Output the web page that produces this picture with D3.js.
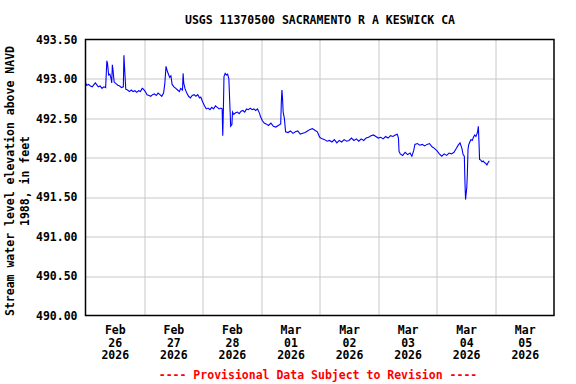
<!DOCTYPE html>
<html>
<head>
<meta charset="utf-8">
<script src="https://cdn.jsdelivr.net/npm/d3@7"></script>
<style>
	body { margin: 0; background: #fff; }
	text { font-family: "DejaVu Sans Mono", monospace; font-weight: bold; }
</style>
</head>
<body>
<div id="chart-area"></div>
<script>
// readings (local time) and stage values
var times = [
	'02-26 00:00', '02-26 00:30', '02-26 01:15', '02-26 02:00', '02-26 02:45', '02-26 03:30', '02-26 04:00', '02-26 04:30',
	'02-26 05:15', '02-26 06:00', '02-26 06:45', '02-26 07:30', '02-26 08:15', '02-26 08:45', '02-26 09:00', '02-26 09:30',
	'02-26 10:00', '02-26 10:30', '02-26 10:45', '02-26 11:00', '02-26 11:15', '02-26 11:45', '02-26 12:30', '02-26 13:15',
	'02-26 14:00', '02-26 14:45', '02-26 15:30', '02-26 15:45', '02-26 16:00', '02-26 16:30', '02-26 17:15', '02-26 18:00',
	'02-26 18:45', '02-26 19:30', '02-26 20:15', '02-26 21:00', '02-26 21:45', '02-26 22:30', '02-26 23:15', '02-26 23:45',
	'02-27 00:30', '02-27 01:15', '02-27 02:00', '02-27 02:45', '02-27 03:30', '02-27 04:15', '02-27 05:00', '02-27 05:45',
	'02-27 06:30', '02-27 07:15', '02-27 08:00', '02-27 08:30', '02-27 09:00', '02-27 09:30', '02-27 10:00', '02-27 10:30',
	'02-27 11:00', '02-27 11:30', '02-27 12:15', '02-27 13:00', '02-27 13:45', '02-27 14:30', '02-27 15:00', '02-27 15:45',
	'02-27 16:00', '02-27 16:15', '02-27 16:45', '02-27 17:30', '02-27 18:15', '02-27 19:00', '02-27 19:45', '02-27 20:30',
	'02-27 21:15', '02-27 22:00', '02-27 22:45', '02-27 23:15',
	'02-28 00:00', '02-28 00:45', '02-28 01:30', '02-28 02:15', '02-28 03:00', '02-28 03:45', '02-28 04:30', '02-28 05:15',
	'02-28 06:00', '02-28 06:45', '02-28 07:30', '02-28 08:00', '02-28 08:15', '02-28 08:30', '02-28 08:45', '02-28 09:15',
	'02-28 09:45', '02-28 10:15', '02-28 10:45', '02-28 11:00', '02-28 11:15', '02-28 11:30', '02-28 12:00', '02-28 12:15',
	'02-28 12:45', '02-28 13:30', '02-28 14:15', '02-28 15:00', '02-28 15:45', '02-28 16:30', '02-28 17:15', '02-28 18:00',
	'02-28 18:45', '02-28 19:30', '02-28 20:15', '02-28 21:00', '02-28 21:45', '02-28 22:30', '02-28 23:15', '02-28 23:45',
	'03-01 00:30', '03-01 01:15', '03-01 02:00', '03-01 03:00', '03-01 04:00', '03-01 05:00', '03-01 06:00', '03-01 07:00',
	'03-01 08:00', '03-01 08:15', '03-01 08:30', '03-01 08:45', '03-01 09:00', '03-01 09:30', '03-01 10:00', '03-01 11:00',
	'03-01 12:00', '03-01 13:00', '03-01 14:00', '03-01 15:00', '03-01 16:00', '03-01 17:00', '03-01 18:00', '03-01 19:00',
	'03-01 20:00', '03-01 21:00', '03-01 22:00', '03-01 23:00',
	'03-02 00:00', '03-02 01:00', '03-02 02:00', '03-02 03:00', '03-02 04:00', '03-02 05:00', '03-02 06:00', '03-02 07:00',
	'03-02 08:00', '03-02 09:00', '03-02 10:00', '03-02 11:00', '03-02 12:00', '03-02 13:00', '03-02 14:00', '03-02 15:00',
	'03-02 16:00', '03-02 17:00', '03-02 18:00', '03-02 19:00', '03-02 20:00', '03-02 21:00', '03-02 22:00', '03-02 23:00',
	'03-03 00:00', '03-03 01:00', '03-03 02:00', '03-03 03:00', '03-03 04:00', '03-03 05:00', '03-03 06:00', '03-03 07:00',
	'03-03 07:45', '03-03 08:15', '03-03 08:30', '03-03 09:00', '03-03 10:00', '03-03 11:00', '03-03 12:00', '03-03 13:00',
	'03-03 13:45', '03-03 14:30', '03-03 15:00', '03-03 16:00', '03-03 17:00', '03-03 18:00', '03-03 19:00', '03-03 20:00',
	'03-03 21:00', '03-03 22:00', '03-03 23:00',
	'03-04 00:00', '03-04 01:00', '03-04 02:00', '03-04 03:00', '03-04 04:00', '03-04 05:00', '03-04 06:00', '03-04 07:00',
	'03-04 08:00', '03-04 08:45', '03-04 09:30', '03-04 10:15', '03-04 10:45', '03-04 11:15', '03-04 11:30', '03-04 11:45',
	'03-04 12:15', '03-04 12:30', '03-04 12:45', '03-04 13:00', '03-04 13:30', '03-04 14:00', '03-04 14:30', '03-04 15:00',
	'03-04 15:30', '03-04 16:00', '03-04 16:30', '03-04 16:45', '03-04 17:00', '03-04 17:15', '03-04 17:30', '03-04 18:00',
	'03-04 18:30', '03-04 19:00', '03-04 19:30', '03-04 20:00', '03-04 20:30', '03-04 21:00', '03-04 21:30'
];
var levels = [
	492.95, 492.92, 492.93, 492.91, 492.90, 492.93, 492.95, 492.93,
	492.90, 492.91, 492.88, 492.90, 492.89, 493.23, 493.20, 493.05,
	493.06, 493.00, 492.95, 493.18, 493.12, 492.96, 492.94, 492.92,
	492.91, 492.89, 492.90, 493.30, 493.15, 492.87, 492.86, 492.84,
	492.86, 492.84, 492.85, 492.83, 492.85, 492.84, 492.88, 492.87,
	492.84, 492.80, 492.79, 492.78, 492.80, 492.81, 492.79, 492.82,
	492.80, 492.78, 492.82, 492.94, 493.16, 493.10, 493.06, 493.02,
	493.04, 492.93, 492.90, 492.88, 492.86, 492.84, 492.88, 492.86,
	493.07, 492.95, 492.88, 492.82, 492.78, 492.76, 492.79, 492.80,
	492.78, 492.80, 492.76, 492.77,
	492.71, 492.66, 492.62, 492.63, 492.61, 492.64, 492.62, 492.66,
	492.64, 492.62, 492.63, 492.62, 492.28, 492.60, 493.03, 493.07,
	493.05, 493.06, 493.00, 492.80, 492.60, 492.40, 492.42, 492.58,
	492.55, 492.57, 492.58, 492.56, 492.59, 492.60, 492.58, 492.62,
	492.61, 492.63, 492.61, 492.62, 492.60, 492.62, 492.57, 492.52,
	492.47, 492.44, 492.43, 492.41, 492.44, 492.40, 492.39, 492.41,
	492.43, 492.70, 492.86, 492.75, 492.58, 492.50, 492.33, 492.32,
	492.34, 492.31, 492.33, 492.34, 492.30, 492.31, 492.32, 492.34,
	492.36, 492.37, 492.35, 492.33,
	492.26, 492.24, 492.23, 492.21, 492.22, 492.20, 492.23, 492.19,
	492.22, 492.20, 492.23, 492.21, 492.22, 492.25, 492.22, 492.24,
	492.21, 492.24, 492.22, 492.25, 492.26, 492.28, 492.29, 492.27,
	492.25, 492.26, 492.24, 492.27, 492.25, 492.28, 492.27, 492.29,
	492.30, 492.25, 492.08, 492.05, 492.03, 492.07, 492.04, 492.06,
	492.02, 492.09, 492.17, 492.18, 492.16, 492.17, 492.15, 492.17,
	492.18, 492.14, 492.12,
	492.09, 492.05, 492.02, 492.05, 492.03, 492.06, 492.05, 492.07,
	492.12, 492.16, 492.19, 492.12, 492.04, 492.02, 491.70, 491.47,
	491.62, 491.80, 492.10, 492.16, 492.20, 492.23, 492.22, 492.26,
	492.29, 492.27, 492.31, 492.34, 492.40, 492.20, 491.98, 491.97,
	491.95, 491.96, 491.94, 491.93, 491.91, 491.94, 491.96
];
var dayLabels = [
	['Feb', '26', '2026'], ['Feb', '27', '2026'], ['Feb', '28', '2026'], ['Mar', '01', '2026'],
	['Mar', '02', '2026'], ['Mar', '03', '2026'], ['Mar', '04', '2026'], ['Mar', '05', '2026']
];
var yTicks = [490.0, 490.5, 491.0, 491.5, 492.0, 492.5, 493.0, 493.5];

var margin = { left: 85.5, right: 22, top: 39.5, bottom: 68.5 };
var width = 576 - margin.left - margin.right;
var height = 384 - margin.top - margin.bottom;

var parseTime = d3.timeParse('%Y-%m-%d %H:%M');
var data = times.map((t, i) => {
	return { date: parseTime('2026-' + t), value: levels[i] };
});

var svg = d3.select('#chart-area')
	.append('svg')
	.attr('width', 576)
	.attr('height', 384);

var g = svg.append('g')
	.attr('transform', `translate(${margin.left}, ${margin.top})`);

var x = d3.scaleTime()
	.domain([new Date(2026, 1, 26), new Date(2026, 2, 6)])
	.range([0, width]);
var y = d3.scaleLinear()
	.domain([490, 493.5])
	.range([height, 0]);

// grid lines
var dayEdges = d3.timeDay.range(new Date(2026, 1, 27), new Date(2026, 2, 6));
g.append('g')
	.selectAll('line.vgrid')
	.data(dayEdges)
	.enter().append('line')
	.attr('x1', d => Math.round(x(d)) + 0.5)
	.attr('x2', d => Math.round(x(d)) + 0.5)
	.attr('y1', 0)
	.attr('y2', height)
	.attr('stroke', '#c8c8c8');
g.append('g')
	.selectAll('line.hgrid')
	.data(yTicks.slice(1, -1))
	.enter().append('line')
	.attr('x1', 0)
	.attr('x2', width)
	.attr('y1', d => Math.round(y(d)) + 0.5)
	.attr('y2', d => Math.round(y(d)) + 0.5)
	.attr('stroke', '#c8c8c8');

// data line
var line = d3.line()
	.x(d => x(d.date))
	.y(d => y(d.value));
g.append('path')
	.datum(data)
	.attr('fill', 'none')
	.attr('stroke', '#0000ff')
	.attr('stroke-width', 1.1)
	.attr('d', line);

// frame
g.append('rect')
	.attr('width', width)
	.attr('height', height)
	.attr('fill', 'none')
	.attr('stroke', '#000')
	.attr('stroke-width', 1.5);

// y axis
var yAxisCall = d3.axisLeft(y)
	.tickValues(yTicks)
	.tickSize(0)
	.tickPadding(8)
	.tickFormat(d3.format('.2f'));
var yAxis = g.append('g')
	.call(yAxisCall);
yAxis.select('.domain').remove();
yAxis.selectAll('text')
	.attr('font-family', '"DejaVu Sans Mono", monospace')
	.attr('font-size', '11.5px')
	.attr('fill', '#000');

// x axis: labels at noon of each day
var noons = dayLabels.map((d, i) => d3.timeHour.offset(new Date(2026, 1, 26 + i), 12));
var xAxisCall = d3.axisBottom(x)
	.tickValues(noons)
	.tickSize(0)
	.tickFormat('');
var xAxis = g.append('g')
	.attr('transform', `translate(0, ${height})`)
	.call(xAxisCall);
xAxis.select('.domain').remove();
xAxis.selectAll('.tick').each(function (d, i) {
	var t = d3.select(this).append('text')
		.attr('fill', '#000')
		.attr('font-size', '11.5px')
		.attr('text-anchor', 'middle');
	dayLabels[i].forEach((s, j) => {
		t.append('tspan')
			.attr('x', 0)
			.attr('y', 18.5 + j * 12.7)
			.text(s);
	});
});

// title
svg.append('text')
	.attr('x', 320)
	.attr('y', 24)
	.attr('font-size', '11.5px')
	.attr('text-anchor', 'middle')
	.text('USGS 11370500 SACRAMENTO R A KESWICK CA');

// y axis label
var yLabel = svg.append('text')
	.attr('transform', 'translate(14, 181) rotate(-90)')
	.attr('font-size', '11.5px')
	.attr('text-anchor', 'middle');
yLabel.append('tspan')
	.attr('x', 0)
	.attr('y', 0)
	.text('Stream water level elevation above NAVD');
yLabel.append('tspan')
	.attr('x', 0)
	.attr('y', 15)
	.text('1988, in feet');

// footer
svg.append('text')
	.attr('x', 318)
	.attr('y', 379)
	.attr('font-size', '11.5px')
	.attr('text-anchor', 'middle')
	.attr('fill', '#ff0000')
	.text('---- Provisional Data Subject to Revision ----');
</script>
</body>
</html>
